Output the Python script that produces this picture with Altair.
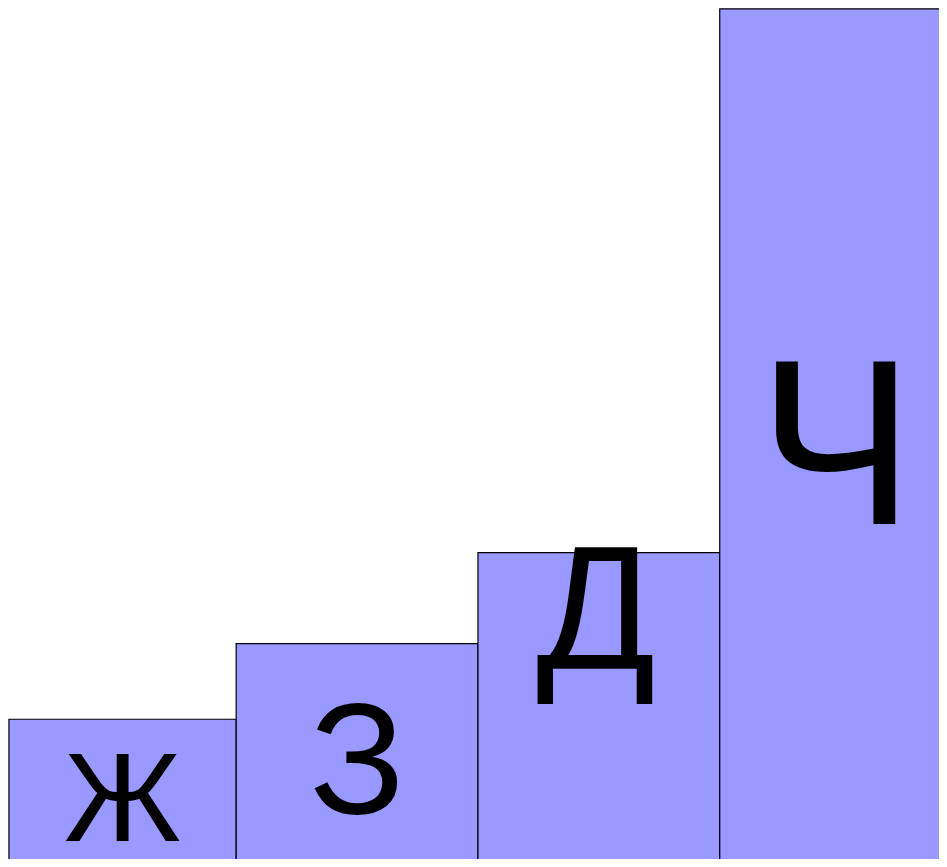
import altair as alt
import pandas as pd

letters = ["Ж", "З", "Д", "Ч"]
x_start = [0.1, 24.3, 50.05, 75.8]
x_end = [24.3, 50.05, 75.8, 101.6]
bar_value = [17.2, 26.0, 36.6, 99.9]
label_x = [12.2, 37.2, 62.6, 88.2]
label_y = [3.0, 6.3, 23.05, 39.9]

font_sizes = [127, 158, 176, 235]

df = pd.DataFrame({
    "letter": letters,
    "x0": x_start,
    "x1": x_end,
    "value": bar_value,
    "lx": label_x,
    "ly": label_y,
})

xs = alt.Scale(domain=[0, 99.15], nice=False, zero=False)
ys = alt.Scale(domain=[0.93, 100], nice=False, zero=False)

bars = alt.Chart(df).mark_rect(
    color="#9999ff", stroke="black", strokeWidth=1.2, clip=True
).encode(
    x=alt.X("x0:Q", scale=xs, axis=None),
    x2="x1:Q",
    y=alt.Y("value:Q", scale=ys, axis=None),
    y2=alt.datum(-10),
)

labels = alt.Chart(df).mark_text(
    font="Liberation Sans", baseline="alphabetic", align="center", color="black"
).encode(
    x=alt.X("lx:Q", scale=xs, axis=None),
    y=alt.Y("ly:Q", scale=ys, axis=None),
    text="letter:N",
    size=alt.Size("letter:N", scale=alt.Scale(type="ordinal", domain=letters, range=font_sizes), legend=None),
)

chart = alt.layer(bars, labels).properties(
    width=931, height=851, padding=0,
    autosize=alt.AutoSizeParams(type="none"),
).configure_view(stroke=None)

chart.save("out.html", embed_options={"renderer": "svg", "actions": False})
